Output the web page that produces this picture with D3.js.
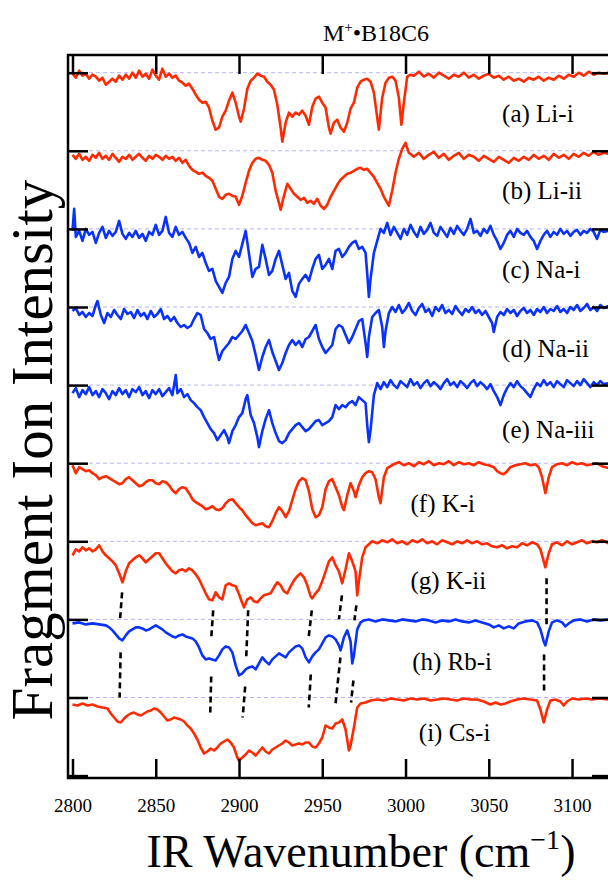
<!DOCTYPE html>
<html lang="en">
<head>
<meta charset="UTF-8">
<title>M+ B18C6 IR spectra</title>
<script src="https://cdn.jsdelivr.net/npm/d3@7"></script>
<style>
  body { margin: 0; background: #fff; }
  svg { font-family: "Liberation Serif", "Times New Roman", serif; }
  .frame { stroke: #000; stroke-width: 2.5; fill: none; }
  .tick line { stroke: #000; stroke-width: 2.5; }
  .domain { display: none; }
  .base { stroke: #b4b4ff; stroke-width: 1; stroke-dasharray: 4 3; }
  .trace { fill: none; stroke-width: 2.6; stroke-linejoin: round; }
  .link { stroke: #000; stroke-width: 2.6; stroke-dasharray: 6 4; }
</style>
</head>
<body>
<svg width="608" height="881"></svg>
<script>
// ---- data: [wavenumber, signal relative to the trace baseline] ----
var liI = [[2800,-1],[2802,-5],[2804,2],[2806,-3],[2808,-1],[2810,-6],[2812,-2],[2814,-4],[2816,-8],[2818,-5],[2820,-12],[2822,-9],[2824,-6],[2826,-9],[2828,-3],[2830,-7],[2832,-2],[2834,-6],[2836,0],[2838,-5],[2840,2],[2842,-4],[2844,-1],[2846,-6],[2848,3],[2850,-3],[2852,-7],[2854,4],[2856,-4],[2858,-1],[2860,-5],[2862,-3],[2864,-8],[2866,-10],[2868,-13],[2870,-11],[2872,-16],[2874,-22],[2876,-27],[2878,-30],[2880,-29],[2882,-35],[2884,-48],[2886,-57],[2888,-55],[2890,-44],[2892,-38],[2894,-28],[2896,-20],[2898,-30],[2900,-44],[2901,-49],[2903,-36],[2905,-16],[2907,-8],[2909,-5],[2911,-1],[2913,-3],[2915,-4],[2917,-9],[2919,-12],[2921,-17],[2923,-32],[2925,-55],[2926,-69],[2928,-50],[2930,-40],[2932,-44],[2934,-40],[2936,-42],[2938,-38],[2940,-43],[2942,-52],[2944,-34],[2946,-26],[2948,-24],[2950,-30],[2952,-35],[2954,-55],[2955,-61],[2957,-50],[2959,-47],[2961,-55],[2963,-59],[2965,-50],[2967,-36],[2969,-30],[2971,-15],[2973,-9],[2975,-7],[2977,-6],[2979,-9],[2981,-20],[2983,-45],[2984,-57],[2986,-25],[2988,-10],[2990,-5],[2992,-4],[2994,-8],[2996,-25],[2997.5,-52],[2999,-30],[3001,-4],[3003,-2],[3005,-3],[3008,1],[3011,-4],[3014,-1],[3017,-5],[3020,0],[3023,-3],[3026,-6],[3029,-2],[3032,-4],[3035,0],[3038,-5],[3041,-2],[3044,-6],[3047,-3],[3050,-1],[3053,-5],[3056,-3],[3059,-7],[3062,-4],[3065,-8],[3068,-6],[3071,-9],[3074,-5],[3077,-7],[3080,-4],[3083,-8],[3086,-5],[3089,-7],[3092,-3],[3095,-6],[3098,-2],[3101,-4],[3104,0],[3107,-3],[3110,1],[3113,-2],[3116,0],[3119,-1],[3122,0]];

var liII = [[2800,-4],[2802,-8],[2804,-3],[2806,-9],[2808,-6],[2810,-10],[2812,-4],[2814,-7],[2816,-2],[2818,-8],[2820,-5],[2822,-9],[2824,-3],[2826,-7],[2828,-11],[2830,-6],[2832,-8],[2834,-4],[2836,-9],[2838,-6],[2840,-3],[2842,-7],[2844,-10],[2846,-5],[2848,-8],[2850,-4],[2852,-6],[2854,-9],[2856,-5],[2858,-8],[2860,-6],[2862,-10],[2864,-7],[2866,-12],[2868,-9],[2870,-15],[2872,-19],[2874,-21],[2876,-23],[2878,-22],[2880,-25],[2882,-27],[2884,-30],[2886,-38],[2888,-46],[2890,-48],[2892,-44],[2894,-43],[2896,-45],[2898,-46],[2900,-54],[2902,-45],[2904,-32],[2906,-20],[2908,-12],[2910,-8],[2912,-7],[2914,-9],[2916,-10],[2918,-14],[2920,-22],[2922,-40],[2924,-52],[2925,-59],[2927,-45],[2929,-33],[2931,-38],[2933,-43],[2935,-46],[2937,-49],[2939,-47],[2941,-52],[2943,-50],[2945,-53],[2947,-48],[2949,-55],[2951,-58],[2953,-54],[2955,-46],[2957,-40],[2959,-34],[2961,-29],[2963,-26],[2965,-23],[2967,-22],[2969,-20],[2971,-18],[2973,-17],[2975,-19],[2977,-18],[2979,-22],[2981,-26],[2983,-32],[2985,-38],[2987,-46],[2989,-52],[2990,-55],[2992,-40],[2994,-22],[2996,-8],[2998,2],[3000,8],[3002,-2],[3005,-6],[3008,-2],[3011,-8],[3014,-4],[3017,-1],[3020,-7],[3023,-3],[3026,-9],[3029,-5],[3032,-2],[3035,-8],[3038,-4],[3041,-6],[3044,-10],[3047,-5],[3050,-8],[3053,-11],[3056,-6],[3059,-9],[3062,-12],[3065,-7],[3068,-10],[3071,-6],[3074,-9],[3077,-4],[3080,-8],[3083,-5],[3086,-9],[3089,-3],[3092,-7],[3095,-4],[3098,-8],[3101,-3],[3104,-6],[3107,-2],[3110,-5],[3113,-1],[3116,-4],[3119,-2],[3122,-3]];

var naI = [[2800,-2],[2801,20],[2802,-8],[2804,-2],[2806,-12],[2808,0],[2810,-6],[2812,-3],[2814,-14],[2816,-4],[2818,2],[2820,-9],[2822,-2],[2824,-7],[2826,-3],[2828,8],[2830,-5],[2832,-10],[2834,-4],[2836,-8],[2838,-2],[2840,-9],[2842,-5],[2844,-12],[2846,-3],[2848,-6],[2850,4],[2852,-6],[2854,-2],[2856,12],[2858,-4],[2860,-8],[2862,2],[2864,-6],[2866,-3],[2868,-9],[2870,-14],[2872,-24],[2874,-18],[2876,-28],[2878,-24],[2880,-34],[2882,-42],[2884,-40],[2886,-52],[2888,-58],[2890,-64],[2892,-54],[2894,-48],[2896,-30],[2898,-22],[2900,-28],[2902,-15],[2904,-2],[2906,-25],[2908,-48],[2910,-40],[2912,-38],[2914,-16],[2916,-30],[2918,-46],[2920,-42],[2922,-30],[2924,-22],[2926,-36],[2928,-50],[2930,-44],[2932,-62],[2934,-68],[2936,-55],[2938,-50],[2940,-46],[2942,-52],[2944,-40],[2946,-30],[2948,-26],[2950,-40],[2952,-36],[2954,-30],[2956,-40],[2958,-22],[2960,-20],[2962,-28],[2964,-24],[2966,-18],[2968,-14],[2970,-12],[2972,-20],[2974,-18],[2976,-24],[2977,-45],[2978,-68],[2979,-50],[2981,-24],[2983,-12],[2985,0],[2987,-4],[2989,6],[2991,-6],[2993,2],[2995,-4],[2997,-10],[2999,0],[3001,-6],[3003,4],[3005,-3],[3007,-8],[3009,2],[3011,-5],[3013,-1],[3015,6],[3017,-4],[3019,-7],[3021,2],[3023,-3],[3025,-8],[3027,1],[3029,-5],[3031,3],[3033,-2],[3035,-6],[3037,0],[3039,10],[3041,-4],[3043,-2],[3045,-7],[3047,0],[3049,-4],[3051,3],[3053,-6],[3055,-12],[3057,-20],[3059,-14],[3061,-6],[3063,-2],[3065,-8],[3067,0],[3069,-4],[3071,-6],[3073,-2],[3075,-8],[3077,-12],[3079,-20],[3081,-12],[3083,-6],[3085,-2],[3087,-8],[3089,-3],[3091,-6],[3093,0],[3095,-5],[3097,-2],[3099,-7],[3101,-3],[3103,-1],[3105,-6],[3107,-2],[3109,-4],[3111,0],[3113,-3],[3115,-10],[3117,-1],[3119,-3],[3122,-2]];

var naII = [[2800,-4],[2802,-1],[2804,-8],[2806,-5],[2808,-10],[2810,-6],[2812,-9],[2814,2],[2815,6],[2817,-8],[2819,-16],[2821,-6],[2823,-10],[2825,-3],[2827,-8],[2829,-12],[2831,-2],[2833,-7],[2835,-5],[2837,-11],[2839,-3],[2841,-9],[2843,-6],[2845,-12],[2847,-4],[2849,-10],[2851,-7],[2853,-2],[2855,-12],[2857,-9],[2859,-14],[2861,-10],[2863,-16],[2865,-20],[2867,-18],[2869,-21],[2871,-19],[2873,-12],[2875,-6],[2877,-8],[2879,-22],[2881,-26],[2883,-32],[2885,-30],[2887,-46],[2888,-53],[2890,-44],[2892,-40],[2894,-36],[2896,-30],[2898,-32],[2900,-28],[2902,-24],[2904,-18],[2906,-26],[2908,-34],[2910,-48],[2912,-63],[2914,-50],[2916,-40],[2918,-33],[2920,-45],[2922,-54],[2924,-63],[2926,-56],[2928,-46],[2930,-38],[2932,-33],[2934,-38],[2936,-34],[2938,-40],[2940,-32],[2942,-30],[2944,-24],[2946,-18],[2948,-32],[2950,-40],[2952,-46],[2954,-42],[2956,-38],[2958,-22],[2960,-18],[2962,-20],[2964,-28],[2966,-36],[2968,-30],[2970,-22],[2972,-14],[2974,-12],[2976,-36],[2977,-50],[2978,-30],[2980,-10],[2982,-6],[2984,-3],[2986,-20],[2987,-40],[2988,-24],[2990,-6],[2992,0],[2994,-5],[2996,2],[2998,-6],[3000,-2],[3002,4],[3004,-4],[3006,-8],[3008,-1],[3010,3],[3012,-5],[3014,-2],[3016,-9],[3018,0],[3020,-4],[3022,2],[3024,-6],[3026,-3],[3028,-7],[3030,1],[3032,-4],[3034,-8],[3036,-2],[3038,-5],[3040,0],[3042,-6],[3044,-3],[3046,-8],[3048,-4],[3050,-10],[3052,-16],[3053,-25],[3055,-10],[3057,-5],[3059,-8],[3061,-2],[3063,-6],[3065,-3],[3067,-9],[3069,-4],[3071,-1],[3073,-6],[3075,-3],[3077,-8],[3079,-2],[3081,-5],[3083,0],[3085,-6],[3087,-2],[3089,-4],[3091,1],[3093,-5],[3095,-2],[3097,-6],[3099,0],[3101,-3],[3103,2],[3105,-4],[3107,-1],[3109,3],[3111,-3],[3113,0],[3115,-4],[3117,2],[3119,-1],[3122,1]];

var naIII = [[2800,-8],[2802,-3],[2804,-12],[2806,-5],[2808,-9],[2810,-2],[2812,-10],[2814,-6],[2816,-12],[2818,-4],[2820,-8],[2822,-14],[2824,-6],[2826,-10],[2828,-3],[2830,-9],[2832,-5],[2834,-12],[2836,-4],[2838,-7],[2840,-2],[2842,-10],[2844,-6],[2846,-13],[2848,-5],[2850,-9],[2852,-4],[2854,-11],[2856,-7],[2858,-3],[2860,-10],[2862,10],[2863,-8],[2865,-4],[2867,-12],[2869,-9],[2871,-15],[2873,-18],[2875,-22],[2877,-25],[2879,-32],[2881,-38],[2883,-44],[2885,-48],[2887,-55],[2889,-50],[2891,-45],[2893,-52],[2894,-58],[2896,-46],[2898,-40],[2900,-32],[2902,-28],[2904,-14],[2905,-10],[2907,-30],[2909,-38],[2911,-52],[2912,-62],[2914,-46],[2916,-34],[2918,-25],[2920,-38],[2922,-48],[2924,-56],[2926,-58],[2928,-55],[2930,-48],[2932,-44],[2934,-40],[2936,-38],[2938,-42],[2940,-46],[2942,-44],[2944,-40],[2946,-36],[2948,-35],[2950,-40],[2952,-38],[2954,-36],[2956,-32],[2958,-20],[2960,-24],[2962,-20],[2964,-22],[2966,-18],[2968,-16],[2970,-20],[2972,-12],[2974,-15],[2976,-18],[2977,-40],[2978,-57],[2979,-45],[2981,-10],[2983,2],[2985,-4],[2987,3],[2989,-2],[2991,5],[2993,0],[2995,-3],[2997,4],[2999,1],[3001,-2],[3003,6],[3005,0],[3007,3],[3009,-3],[3011,2],[3013,5],[3015,-1],[3017,3],[3019,0],[3021,-4],[3023,2],[3025,6],[3027,0],[3029,3],[3031,-2],[3033,4],[3035,1],[3037,-3],[3039,2],[3041,5],[3043,-1],[3045,3],[3047,0],[3049,-4],[3051,1],[3053,-6],[3055,-12],[3057,-20],[3059,-10],[3061,-3],[3063,2],[3065,-2],[3067,4],[3069,-1],[3071,-4],[3073,-8],[3075,-12],[3077,-4],[3079,2],[3081,-1],[3083,5],[3085,0],[3087,3],[3089,-2],[3091,4],[3093,1],[3095,-2],[3097,5],[3099,2],[3101,-1],[3103,4],[3105,0],[3107,6],[3109,2],[3111,-2],[3113,3],[3115,0],[3117,4],[3119,1],[3122,2]];

var kI = [[2800,-2],[2802,-10],[2804,-4],[2806,-6],[2808,-8],[2810,-7],[2812,-10],[2814,-12],[2816,-16],[2818,-14],[2820,-13],[2822,-15],[2824,-17],[2826,-19],[2828,-21],[2830,-20],[2832,-16],[2834,-14],[2836,-17],[2838,-20],[2840,-23],[2842,-22],[2844,-19],[2846,-17],[2848,-17],[2850,-20],[2852,-21],[2854,-18],[2856,-19],[2858,-22],[2860,-27],[2862,-30],[2864,-26],[2866,-24],[2868,-25],[2870,-30],[2872,-36],[2874,-39],[2876,-41],[2878,-43],[2880,-46],[2882,-45],[2884,-43],[2886,-46],[2888,-47],[2890,-45],[2892,-40],[2894,-37],[2896,-36],[2898,-40],[2900,-44],[2902,-47],[2904,-52],[2906,-56],[2908,-60],[2910,-62],[2912,-61],[2914,-60],[2916,-63],[2918,-64],[2920,-58],[2922,-50],[2924,-44],[2926,-48],[2928,-54],[2930,-48],[2932,-37],[2934,-26],[2936,-18],[2938,-15],[2940,-17],[2942,-28],[2944,-46],[2946,-54],[2948,-52],[2950,-44],[2952,-26],[2954,-18],[2956,-16],[2958,-24],[2960,-32],[2962,-44],[2963,-47],[2965,-32],[2967,-20],[2969,-28],[2970,-34],[2972,-22],[2974,-14],[2976,-10],[2978,-8],[2980,-9],[2982,-16],[2984,-34],[2985,-40],[2987,-14],[2989,-5],[2991,-3],[2993,-1],[2996,1],[2999,-2],[3002,0],[3005,-3],[3008,1],[3011,-1],[3014,2],[3017,-2],[3020,0],[3023,-1],[3026,2],[3029,-2],[3032,1],[3035,-1],[3038,0],[3041,-2],[3044,1],[3047,-1],[3050,-2],[3053,-4],[3055,-8],[3057,-10],[3059,-11],[3061,-8],[3063,-4],[3066,-2],[3069,-1],[3072,0],[3075,-2],[3078,-1],[3080,-4],[3082,-14],[3084,-30],[3086,-14],[3088,-4],[3091,-1],[3094,0],[3097,-2],[3100,1],[3103,-1],[3106,0],[3109,-2],[3112,-1],[3115,0],[3118,-3],[3122,-5]];

var kII = [[2800,-14],[2802,-8],[2804,-10],[2806,-6],[2808,-9],[2810,-7],[2812,-10],[2814,-8],[2816,-4],[2818,-10],[2820,-14],[2822,-17],[2824,-20],[2826,-24],[2828,-32],[2830,-41],[2832,-30],[2834,-22],[2836,-19],[2838,-16],[2840,-14],[2842,-17],[2844,-21],[2846,-18],[2848,-15],[2850,-12],[2852,-12],[2854,-17],[2856,-22],[2858,-26],[2860,-30],[2862,-32],[2864,-29],[2866,-28],[2868,-30],[2870,-27],[2872,-29],[2874,-33],[2876,-38],[2878,-45],[2880,-52],[2882,-58],[2884,-59],[2886,-51],[2888,-56],[2890,-58],[2892,-44],[2894,-42],[2896,-44],[2898,-45],[2900,-53],[2902,-62],[2903,-66],[2905,-58],[2907,-56],[2909,-60],[2911,-61],[2913,-57],[2915,-54],[2917,-53],[2919,-52],[2921,-46],[2923,-41],[2925,-44],[2927,-50],[2929,-52],[2931,-45],[2933,-39],[2935,-35],[2937,-32],[2939,-36],[2941,-44],[2943,-55],[2944,-57],[2946,-52],[2948,-48],[2950,-40],[2952,-30],[2954,-20],[2956,-16],[2958,-24],[2960,-30],[2962,-42],[2964,-28],[2966,-12],[2968,-20],[2970,-30],[2971,-54],[2972,-40],[2974,-16],[2976,-6],[2978,-3],[2980,0],[2983,-2],[2986,1],[2989,-1],[2992,2],[2995,-2],[2998,0],[3001,-3],[3004,1],[3007,-1],[3010,2],[3013,-2],[3016,0],[3019,-3],[3022,1],[3025,-1],[3028,-3],[3031,0],[3034,-2],[3037,1],[3040,-2],[3043,0],[3046,-3],[3049,-2],[3052,-5],[3055,-6],[3058,-4],[3061,-7],[3064,-5],[3067,-6],[3070,-2],[3073,-4],[3076,-1],[3079,-3],[3081,-8],[3083,-20],[3084,-26],[3086,-12],[3088,-3],[3091,-1],[3094,-4],[3097,0],[3100,-3],[3103,-1],[3106,1],[3109,-2],[3112,0],[3115,-1],[3118,1],[3122,-2]];

var rbI = [[2800,-4],[2804,-3],[2808,-5],[2812,-4],[2816,-5],[2820,-6],[2822,-8],[2824,-11],[2826,-15],[2828,-19],[2830,-21],[2832,-16],[2834,-12],[2836,-10],[2838,-8],[2840,-8],[2842,-9],[2844,-11],[2846,-10],[2848,-8],[2850,-6],[2852,-8],[2854,-10],[2856,-13],[2858,-15],[2860,-17],[2862,-18],[2864,-16],[2866,-15],[2868,-17],[2870,-18],[2872,-19],[2874,-22],[2876,-28],[2878,-36],[2880,-40],[2882,-39],[2884,-40],[2886,-41],[2888,-36],[2890,-30],[2892,-27],[2894,-28],[2896,-33],[2898,-46],[2900,-56],[2902,-54],[2904,-50],[2906,-48],[2908,-47],[2910,-50],[2912,-44],[2914,-38],[2916,-42],[2918,-45],[2920,-40],[2922,-37],[2924,-34],[2926,-36],[2928,-38],[2930,-33],[2932,-30],[2934,-27],[2936,-26],[2938,-29],[2940,-38],[2942,-43],[2944,-37],[2946,-33],[2948,-30],[2950,-24],[2952,-18],[2954,-16],[2956,-17],[2958,-20],[2960,-26],[2961,-31],[2963,-18],[2965,-11],[2967,-22],[2968,-44],[2969,-36],[2971,-10],[2973,-3],[2975,-1],[2978,0],[2982,-2],[2986,0],[2990,-1],[2994,-2],[2998,0],[3002,-1],[3006,-2],[3010,0],[3014,-1],[3018,-3],[3022,-1],[3026,-2],[3030,0],[3034,-2],[3038,-3],[3042,-1],[3046,-3],[3050,-5],[3053,-8],[3056,-6],[3059,-9],[3062,-7],[3065,-9],[3068,-4],[3072,-2],[3076,-1],[3079,-3],[3081,-10],[3083,-22],[3084,-26],[3086,-12],[3088,-3],[3091,-1],[3094,-3],[3096,-7],[3098,-4],[3101,-1],[3105,0],[3109,-2],[3113,0],[3117,-1],[3122,0]];

var csI = [[2800,-7],[2803,-8],[2806,-6],[2809,-8],[2812,-7],[2815,-9],[2818,-10],[2821,-11],[2823,-16],[2825,-20],[2827,-24],[2829,-25],[2831,-21],[2833,-18],[2835,-16],[2837,-15],[2839,-17],[2841,-18],[2843,-16],[2845,-14],[2847,-13],[2849,-11],[2851,-12],[2853,-15],[2855,-19],[2857,-23],[2859,-22],[2861,-20],[2863,-21],[2865,-22],[2867,-24],[2869,-28],[2871,-31],[2873,-36],[2875,-42],[2877,-50],[2879,-56],[2881,-54],[2883,-51],[2885,-53],[2887,-50],[2889,-46],[2891,-44],[2893,-42],[2895,-45],[2897,-50],[2899,-60],[2900,-63],[2902,-60],[2904,-57],[2906,-53],[2908,-55],[2910,-58],[2912,-54],[2914,-50],[2916,-54],[2918,-56],[2920,-52],[2922,-50],[2924,-48],[2926,-46],[2928,-43],[2930,-45],[2932,-48],[2934,-47],[2936,-46],[2938,-47],[2940,-45],[2942,-45],[2944,-49],[2946,-50],[2948,-46],[2950,-40],[2952,-28],[2954,-30],[2956,-31],[2958,-26],[2960,-25],[2962,-22],[2964,-32],[2966,-53],[2967,-48],[2969,-30],[2971,-10],[2973,-6],[2976,-5],[2979,-3],[2983,-2],[2987,-3],[2991,-1],[2995,-2],[2999,-3],[3003,-1],[3007,-2],[3011,-1],[3015,-3],[3019,-2],[3023,-1],[3027,-2],[3031,-3],[3035,-1],[3039,-2],[3043,-2],[3047,-4],[3051,-7],[3054,-5],[3057,-7],[3060,-6],[3063,-4],[3067,-2],[3071,-1],[3075,-2],[3079,-3],[3081,-12],[3083,-25],[3085,-12],[3087,-3],[3090,-2],[3093,-4],[3095,-8],[3097,-4],[3100,-1],[3104,-2],[3108,-1],[3112,-2],[3116,-1],[3122,-2]];

var series = [liI, liII, naI, naII, naIII, kI, kII, rbI, csI];
var seriesNames = ["(a) Li-i", "(b) Li-ii", "(c) Na-i", "(d) Na-ii", "(e) Na-iii", "(f) K-i", "(g) K-ii", "(h) Rb-i", "(i) Cs-i"];
var seriesKind = ["red", "red", "blue", "blue", "blue", "red", "red", "blue", "red"];
var xTicks = [2800, 2850, 2900, 2950, 3000, 3050, 3100];

// correlated bands, g -> h and h -> i: [wn1, trace1, sig1, wn2, trace2, sig2]
var links = [
  [2829.8, 6, -51, 2828.6, 7, 1], [2828.9, 7, -33, 2828.3, 8, 0],
  [2884.5, 6, -69, 2883.3, 7, -19], [2883.3, 8, 21, 2882.7, 8, -17],
  [2905.5, 6, -69, 2904.3, 7, -39], [2903.7, 8, 11, 2902.2, 8, -20],
  [2943.7, 6, -69, 2941.9, 7, -17], [2943.1, 8, 23, 2941.9, 8, -10],
  [2961.8, 6, -54, 2960.0, 7, 0], [2960.9, 8, 40, 2957.8, 8, -9],
  [2970.5, 6, -64, 2969.3, 7, -1], [2968.7, 8, 17, 2967.3, 8, -5],
  [3084.7, 6, -37, 3084.7, 7, -7], [3083.2, 8, 43, 3083.2, 8, 5]
];

// ---- layout ----
var OFFSET = 78.1;
var mLeft = 68, mRight = 612, mTop = 55, mBottom = 778;
var labelAt = [[3058, 49], [3058, 48], [3058, 49], [3058, 50], [3058, 53], [3003, 49], [3003, 48], [3004, 51], [3008, 43]];
var colors = { red: "#ff2a00", blue: "#0a32ff" };

var svg = d3.select("svg");

var x = d3.scaleLinear().domain([2797.3, 3124]).range([mLeft, mRight]);
var y = d3.scaleLinear().domain([-2.4, 720.6]).range([mBottom, mTop]);

function base(i) { return (9 - i) * OFFSET; }

svg.append("clipPath").attr("id", "plot")
  .append("rect").attr("x", mLeft).attr("y", mTop)
  .attr("width", mRight - mLeft).attr("height", mBottom - mTop);

var plot = svg.append("g").attr("clip-path", "url(#plot)");

// dashed baselines
plot.selectAll("line.base").data(series).enter().append("line")
  .attr("class", "base")
  .attr("x1", mLeft).attr("x2", mRight)
  .attr("y1", function (d, i) { return y(base(i)); })
  .attr("y2", function (d, i) { return y(base(i)); });

// spectra
var line = d3.line();
plot.selectAll("path.trace").data(series).enter().append("path")
  .attr("class", "trace")
  .attr("stroke", function (d, i) { return colors[seriesKind[i]]; })
  .attr("d", function (d, i) {
    return line(d.map(function (p) { return [x(p[0]), y(base(i) + p[1])]; }));
  });

// dashed connectors
plot.selectAll("line.link").data(links).enter().append("line")
  .attr("class", "link")
  .attr("x1", function (d) { return x(d[0]); })
  .attr("y1", function (d) { return y(base(d[1]) + d[2]); })
  .attr("x2", function (d) { return x(d[3]); })
  .attr("y2", function (d) { return y(base(d[4]) + d[5]); });

// frame and axes
svg.append("path").attr("class", "frame")
  .attr("d", "M" + mRight + "," + mTop + "H" + mLeft + "V" + mBottom + "H" + mRight);

var xb = svg.append("g").attr("transform", "translate(0," + mBottom + ")")
  .call(d3.axisBottom(x).tickValues(xTicks).tickSize(-19).tickPadding(21).tickFormat(d3.format("d")));
xb.attr("font-size", null).attr("font-family", null);
xb.selectAll("text").attr("font-size", 19).attr("fill", "#000");

svg.append("g").attr("transform", "translate(0," + mTop + ")")
  .call(d3.axisTop(x).tickValues(xTicks).tickSize(-19).tickFormat(""));

var yTicks = d3.range(0, 10).map(function (k) { return k * OFFSET; });
svg.append("g").attr("transform", "translate(" + mLeft + ",0)")
  .call(d3.axisLeft(y).tickValues(yTicks).tickSize(-20).tickFormat(""));
svg.append("g").attr("transform", "translate(" + mRight + ",0)")
  .call(d3.axisRight(y).tickValues(yTicks).tickSize(-20).tickFormat(""));

// trace labels
svg.selectAll("text.lab").data(seriesNames).enter().append("text")
  .attr("class", "lab")
  .attr("x", function (d, i) { return x(labelAt[i][0]); })
  .attr("y", function (d, i) { return y(base(i)) + labelAt[i][1]; })
  .attr("font-size", 25)
  .text(function (d) { return d; });

// title
var t = svg.append("text").attr("x", 376).attr("y", 41)
  .attr("text-anchor", "middle").attr("font-size", 24);
t.append("tspan").text("M");
t.append("tspan").attr("dy", -9).attr("font-size", 15).text("+");
t.append("tspan").attr("dy", 9).text("\u2022B18C6");

// axis titles
svg.append("text")
  .attr("transform", "translate(52,450) rotate(-90)")
  .attr("text-anchor", "middle").attr("font-size", 59)
  .text("Fragment Ion Intensity");

var xl = svg.append("text").attr("x", 361).attr("y", 867)
  .attr("text-anchor", "middle").attr("font-size", 46);
xl.append("tspan").text("IR Wavenumber (cm");
xl.append("tspan").attr("dy", -18).attr("font-size", 28).text("\u22121");
xl.append("tspan").attr("dy", 18).text(")");
</script>
</body>
</html>
